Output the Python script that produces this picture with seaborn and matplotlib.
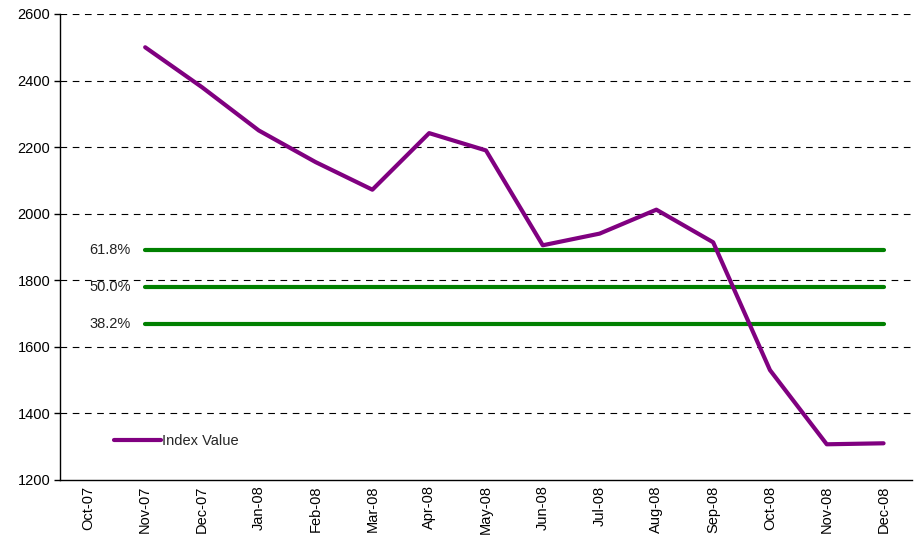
import matplotlib
matplotlib.use("Agg")
import matplotlib.pyplot as plt
import numpy as np
import pandas as pd
import seaborn as sns

months = ["Oct-07", "Nov-07", "Dec-07", "Jan-08", "Feb-08", "Mar-08", "Apr-08", "May-08",
          "Jun-08", "Jul-08", "Aug-08", "Sep-08", "Oct-08", "Nov-08", "Dec-08"]
index_value = [np.nan, 2500, 2380, 2250, 2155, 2072, 2242, 2190,
               1905, 1940, 2012, 1914, 1530, 1307, 1310]
fib_labels = ["61.8%", "50.0%", "38.2%"]
fib_levels = [1890, 1779, 1668]

sns.set_theme(style="white")
plt.rcParams["font.family"] = ["Liberation Sans", "DejaVu Sans"]

df = pd.DataFrame({"pos": np.arange(len(months)), "month": months, "value": index_value})
line_df = df.dropna()

fig, ax = plt.subplots(figsize=(9.17, 5.38), dpi=100)
fig.subplots_adjust(left=0.0654, right=0.9945, top=0.974, bottom=0.108)

for label, level in zip(fib_labels, fib_levels):
    fib_df = pd.DataFrame({"pos": line_df["pos"], "value": level})
    sns.lineplot(data=fib_df, x="pos", y="value", color="#008000", linewidth=3,
                 solid_capstyle="round", ax=ax, zorder=3)
    ax.text(0.75, level, label, ha="right", va="center", fontsize=10.5, color="#222222")

sns.lineplot(data=line_df, x="pos", y="value", color="#800080", linewidth=3,
             solid_capstyle="round", label="Index Value", ax=ax, zorder=4)

ax.set_xlim(-0.5, len(months) - 0.5)
ax.set_ylim(1200, 2600)
ax.set_yticks(np.arange(1200, 2601, 200))
ax.set_xticks(df["pos"])
ax.set_xticklabels(months, rotation=90, fontsize=10.5, color="black")
ax.tick_params(axis="y", labelsize=10.5, labelcolor="black", left=True, length=4, width=1,
               color="black", pad=3)
ax.tick_params(axis="x", bottom=False, length=0, pad=4)
ax.set_xlabel("")
ax.set_ylabel("")

for y in np.arange(1400, 2601, 200):
    ax.axhline(y, color="black", linestyle=(0, (6, 5)), linewidth=0.8, zorder=1)

sns.despine(ax=ax, top=True, right=True)
ax.spines["left"].set_color("black")
ax.spines["bottom"].set_color("black")
ax.spines["left"].set_linewidth(1)
ax.spines["bottom"].set_linewidth(1)

leg = ax.legend(loc="lower left", bbox_to_anchor=(0.057, 0.055), frameon=False,
                fontsize=10.5, handlelength=3.2, handletextpad=0.1, borderaxespad=0)

plt.savefig("out.png", dpi=100)
plt.close(fig)
